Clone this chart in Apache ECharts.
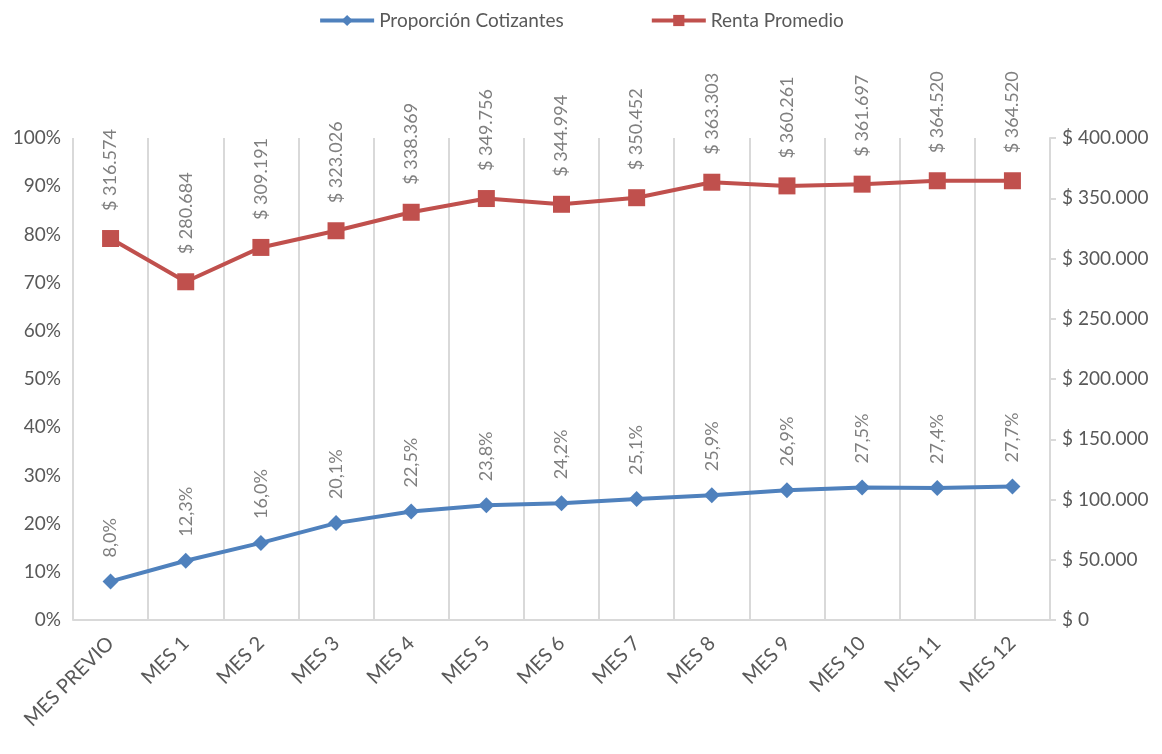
<!DOCTYPE html>
<html><head><meta charset="utf-8">
<script src="https://cdn.jsdelivr.net/npm/echarts@6/dist/echarts.min.js"></script>
<style>html,body{margin:0;padding:0;background:#fff}#c{width:1162px;height:754px}</style>
</head><body><div id="c"></div>
<script>
const categories = ['MES PREVIO','MES 1','MES 2','MES 3','MES 4','MES 5','MES 6','MES 7','MES 8','MES 9','MES 10','MES 11','MES 12'];
const proporcion = [8.0,12.3,16.0,20.1,22.5,23.8,24.2,25.1,25.9,26.9,27.5,27.4,27.7];
const renta = [316574,280684,309191,323026,338369,349756,344994,350452,363303,360261,361697,364520,364520];
const seriesNames = ['Proporción Cotizantes','Renta Promedio'];

const FONT = 'Lato, "Noto Sans", sans-serif';
function fmtMoney(v){ return '$ ' + Math.round(v).toString().replace(/\B(?=(\d{3})+(?!\d))/g,'.'); }
function fmtPct(v){ return v.toFixed(1).replace('.',',') + '%'; }

const chart = echarts.init(document.getElementById('c'));
chart.setOption({
  animation:false,
  textStyle:{fontFamily:FONT},
  legend:{
    top:6, left:'center', itemGap:86, itemWidth:54, itemHeight:14,
    lineStyle:{width:4},
    textStyle:{fontSize:19,color:'#595959',fontFamily:FONT},
    data:seriesNames
  },
  grid:{left:73,right:112,top:138,bottom:134,containLabel:false},
  xAxis:{
    type:'category', data:categories, boundaryGap:true,
    axisLine:{show:true,lineStyle:{color:'#d9d9d9',width:2}},
    axisTick:{show:false},
    splitLine:{show:true,lineStyle:{color:'#d9d9d9',width:2}},
    axisLabel:{rotate:45,interval:0,fontSize:20,color:'#595959',fontFamily:FONT,margin:20}
  },
  yAxis:[
    {type:'value',min:0,max:100,interval:10,position:'left',
     axisLine:{show:false},axisTick:{show:false},splitLine:{show:false},
     axisLabel:{formatter:v=>v+'%',fontSize:19,color:'#595959',fontFamily:FONT,margin:12}},
    {type:'value',min:0,max:400000,interval:50000,position:'right',
     axisLine:{show:true,lineStyle:{color:'#d9d9d9',width:2}},
     axisTick:{show:true,inside:false,length:6,lineStyle:{color:'#d9d9d9',width:2}},
     splitLine:{show:false},
     axisLabel:{formatter:v=>fmtMoney(v),fontSize:19,color:'#595959',fontFamily:FONT,margin:12}}
  ],
  series:[
    {name:seriesNames[0],type:'line',yAxisIndex:0,data:proporcion,
     symbol:'diamond',symbolSize:16,
     lineStyle:{color:'#4f81bd',width:4},itemStyle:{color:'#4f81bd'},
     label:{show:true,position:'top',rotate:90,align:'left',verticalAlign:'middle',distance:16,
       formatter:p=>fmtPct(p.value),fontSize:18,color:'#7f7f7f',fontFamily:FONT}},
    {name:seriesNames[1],type:'line',yAxisIndex:1,data:renta,
     symbol:'rect',symbolSize:17,
     lineStyle:{color:'#c0504d',width:4},itemStyle:{color:'#c0504d'},
     label:{show:true,position:'top',rotate:90,align:'left',verticalAlign:'middle',distance:19,
       formatter:p=>fmtMoney(p.value),fontSize:18,color:'#7f7f7f',fontFamily:FONT}}
  ]
});
</script></body></html>
